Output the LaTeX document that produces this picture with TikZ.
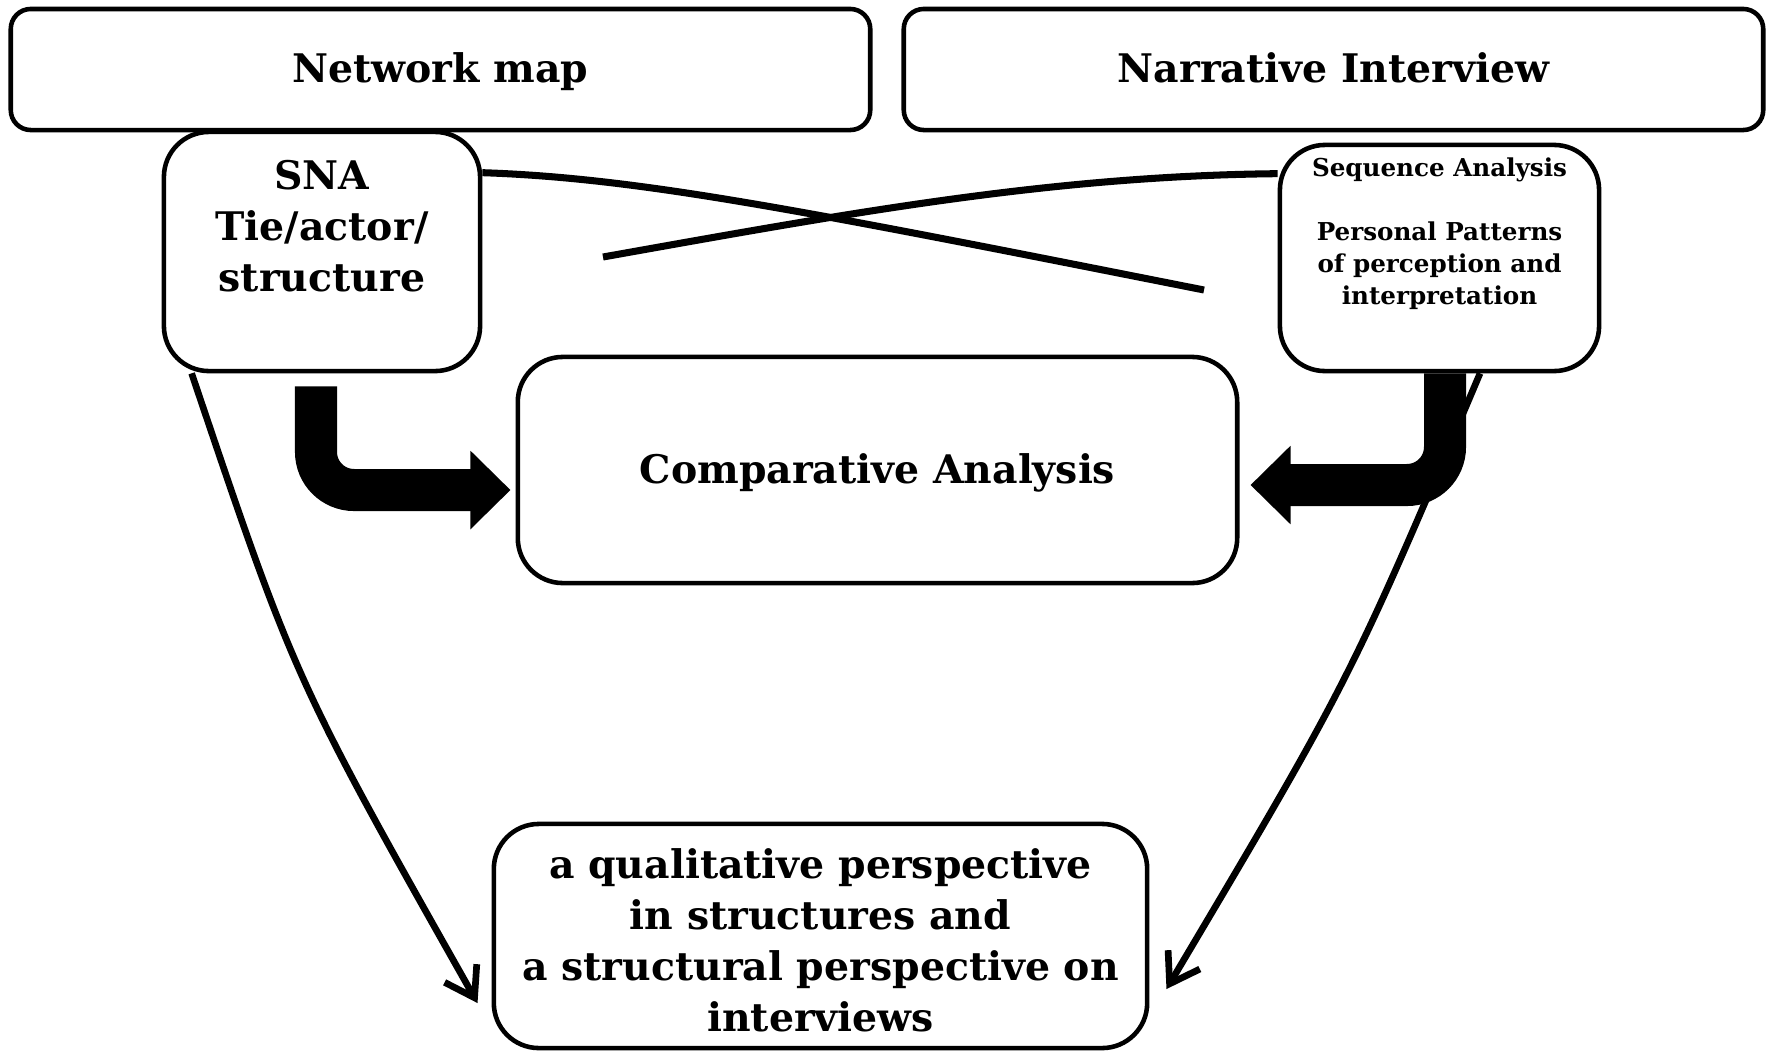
\documentclass[tikz,border=0pt]{standalone}
\usepackage{fontspec}
\setmainfont{DejaVu Serif}
\usepackage{tikz}
\usetikzlibrary{positioning,arrows.meta}

\begin{document}
\begin{tikzpicture}[x=0.01cm,y=-0.01cm,
  box/.style={draw,line width=1.3pt,rounded corners=0.2cm,inner sep=0pt},
  bigbox/.style={box,rounded corners=0.45cm},
  bigtext/.style={font=\bfseries\fontsize{11.2}{14.5}\selectfont,align=center},
  oneline/.style={text height=1em,text depth=0.25em},
  smalltext/.style={font=\bfseries\fontsize{7}{9.1}\selectfont,align=center},
  bigarrow/.style={line width=0.42cm,rounded corners=0.38cm,-{Triangle[width=0.76cm,length=0.4cm]}},
  thinarrow/.style={line width=1.9pt,-{Straight Barb[length=8pt,width=10.5pt,line width=1.9pt]}},
  crossline/.style={line width=2pt}]
\useasboundingbox (0,0) rectangle (1772,1051);
\node[box,minimum width=8.59cm,minimum height=1.21cm,bigtext,oneline] (netmap) at (440.5,69.5) {Network map};
\node[box,minimum width=8.59cm,minimum height=1.21cm,bigtext,oneline] (narr) at (1333.5,69.5) {Narrative Interview};
\node[bigbox,minimum width=3.16cm,minimum height=2.39cm] (sna) at (322,251.5) {};
\node[bigtext] (sna text) at ([yshift=0.255cm]sna.center) {SNA\\Tie/actor/\\structure};
\node[bigbox,minimum width=3.19cm,minimum height=2.26cm] (seq) at (1439.5,258) {};
\node[smalltext] (seq text) at ([yshift=0.245cm]seq.center) {Sequence Analysis\\[9.1pt]Personal Patterns\\of perception and\\interpretation};
\node[bigbox,minimum width=7.19cm,minimum height=2.26cm,bigtext,oneline] (comp) at (877.5,470) {Comparative Analysis};
\node[bigbox,minimum width=6.53cm,minimum height=2.24cm] (persp) at (820.5,936) {};
\node[bigtext] (persp text) at ([yshift=-0.04cm]persp.center) {a qualitative perspective\\in structures and\\a structural perspective on\\interviews};
\coordinate (crossA end) at (1204,290);
\coordinate (crossB start) at (603,257);
\draw[crossline] ([yshift=-0.43cm]sna.north east) .. controls (640,178) and (800,210) .. (crossA end);
\draw[crossline] (crossB start) .. controls (850,213) and (1050,176) .. ([yshift=-0.31cm]seq.north west);
\draw[bigarrow] ([xshift=-0.06cm,yshift=-0.13cm]sna.south) |- ([xshift=-0.05cm,yshift=-0.2cm]comp.west);
\draw[bigarrow] ([xshift=0.055cm]seq.south) |- ([xshift=0.11cm,yshift=-0.15cm]comp.east);
\draw[thinarrow] ([xshift=0.3cm]sna.south west) .. controls (295,680) .. ([xshift=-0.14cm,yshift=-0.67cm]persp.west);
\draw[thinarrow] ([xshift=0.405cm]seq.south) .. controls (1350,680) .. ([xshift=0.17cm,yshift=-0.53cm]persp.east);
\end{tikzpicture}
\end{document}
